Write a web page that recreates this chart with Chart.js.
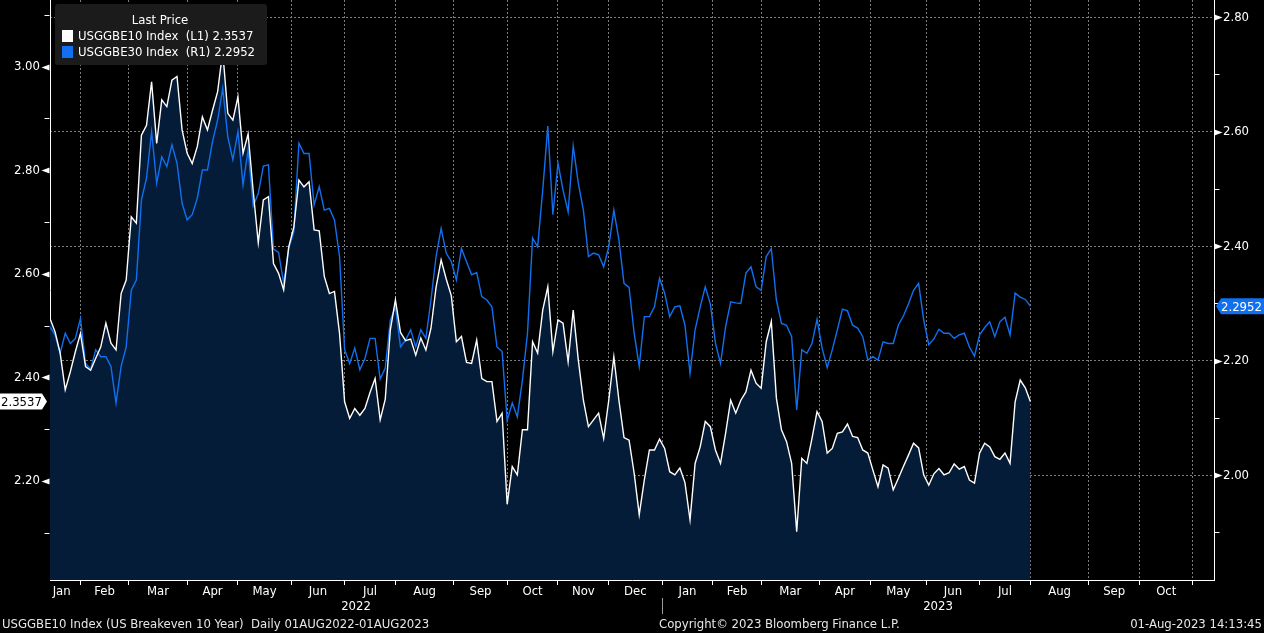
<!DOCTYPE html>
<html>
<head>
<meta charset="utf-8">
<script src="https://cdn.jsdelivr.net/npm/chart.js@4.4.0/dist/chart.umd.min.js"></script>
<style>
  html, body { margin: 0; padding: 0; background: #000; overflow: hidden; }
  #wrap { width: 1264px; height: 633px; position: relative; }
</style>
</head>
<body>
<div id="wrap"><canvas id="beChart"></canvas></div>
<script>
// USGGBE10 (left axis), sampled every 2 trading days from mid-Jan 2022 to 01-Aug-2023
const be10 = [
  2.514, 2.488, 2.447, 2.376, 2.411, 2.450, 2.485, 2.421, 2.414, 2.437,
  2.459, 2.505, 2.466, 2.453, 2.562, 2.588, 2.710, 2.698, 2.868, 2.887,
  2.971, 2.852, 2.936, 2.923, 2.974, 2.981, 2.878, 2.833, 2.813, 2.846,
  2.903, 2.878, 2.916, 2.952, 3.030, 2.910, 2.897, 2.942, 2.833, 2.870,
  2.760, 2.660, 2.743, 2.749, 2.620, 2.601, 2.569, 2.652, 2.690, 2.781,
  2.768, 2.778, 2.685, 2.683, 2.595, 2.562, 2.566, 2.485, 2.353, 2.321,
  2.340, 2.327, 2.340, 2.371, 2.398, 2.318, 2.358, 2.492, 2.550, 2.487,
  2.471, 2.474, 2.443, 2.476, 2.453, 2.495, 2.574, 2.627, 2.590, 2.558,
  2.469, 2.479, 2.429, 2.427, 2.472, 2.398, 2.392, 2.392, 2.315, 2.331,
  2.155, 2.228, 2.212, 2.299, 2.299, 2.469, 2.447, 2.530, 2.575, 2.450,
  2.511, 2.505, 2.430, 2.530, 2.434, 2.356, 2.305, 2.318, 2.331, 2.282,
  2.356, 2.440, 2.356, 2.284, 2.279, 2.215, 2.135, 2.202, 2.260, 2.260,
  2.281, 2.263, 2.218, 2.212, 2.225, 2.197, 2.125, 2.234, 2.266, 2.315,
  2.305, 2.260, 2.234, 2.292, 2.356, 2.331, 2.356, 2.372, 2.414, 2.389,
  2.379, 2.469, 2.508, 2.360, 2.299, 2.276, 2.234, 2.102, 2.244, 2.234,
  2.282, 2.334, 2.315, 2.254, 2.263, 2.292, 2.295, 2.310, 2.286, 2.284,
  2.260, 2.254, 2.221, 2.189, 2.231, 2.225, 2.183, 2.205, 2.228, 2.250,
  2.273, 2.264, 2.212, 2.192, 2.214, 2.224, 2.212, 2.216, 2.233, 2.223,
  2.228, 2.202, 2.196, 2.254, 2.273, 2.266, 2.247, 2.242, 2.254, 2.234,
  2.353, 2.395, 2.380, 2.3537
];
// USGGBE30 (right axis), same dates
const be30 = [
  2.259, 2.245, 2.213, 2.248, 2.230, 2.239, 2.274, 2.195, 2.185, 2.219,
  2.207, 2.207, 2.190, 2.126, 2.190, 2.224, 2.323, 2.341, 2.481, 2.519,
  2.600, 2.510, 2.556, 2.539, 2.577, 2.545, 2.475, 2.446, 2.455, 2.484,
  2.533, 2.533, 2.583, 2.620, 2.676, 2.591, 2.551, 2.600, 2.507, 2.568,
  2.470, 2.492, 2.540, 2.542, 2.395, 2.389, 2.335, 2.396, 2.425, 2.580,
  2.562, 2.562, 2.472, 2.504, 2.463, 2.466, 2.446, 2.382, 2.219, 2.195,
  2.222, 2.184, 2.204, 2.239, 2.239, 2.168, 2.187, 2.271, 2.294, 2.224,
  2.236, 2.254, 2.224, 2.254, 2.239, 2.306, 2.382, 2.431, 2.388, 2.373,
  2.341, 2.396, 2.373, 2.350, 2.354, 2.312, 2.306, 2.294, 2.224, 2.216,
  2.096, 2.126, 2.102, 2.166, 2.248, 2.414, 2.399, 2.498, 2.610, 2.455,
  2.545, 2.498, 2.460, 2.575, 2.510, 2.463, 2.382, 2.388, 2.385, 2.364,
  2.399, 2.463, 2.411, 2.335, 2.328, 2.248, 2.190, 2.277, 2.277, 2.294,
  2.344, 2.318, 2.277, 2.294, 2.296, 2.262, 2.178, 2.254, 2.294, 2.329,
  2.299, 2.231, 2.195, 2.259, 2.303, 2.301, 2.300, 2.353, 2.364, 2.329,
  2.323, 2.382, 2.396, 2.306, 2.265, 2.262, 2.242, 2.114, 2.219, 2.213,
  2.230, 2.272, 2.222, 2.188, 2.219, 2.254, 2.290, 2.287, 2.262, 2.257,
  2.242, 2.201, 2.207, 2.201, 2.233, 2.230, 2.230, 2.262, 2.278, 2.299,
  2.323, 2.335, 2.271, 2.228, 2.238, 2.255, 2.248, 2.248, 2.239, 2.245,
  2.248, 2.224, 2.208, 2.245, 2.258, 2.268, 2.242, 2.268, 2.276, 2.245,
  2.318, 2.311, 2.307, 2.2952
];
const step = 2;          // trading days between samples
const xMax = 458.3;      // trading days shown (to end of Oct 2023)

// first trading day of each month, counted from the left edge
const monthStarts = [12, 31, 54, 74, 95, 116, 136, 159, 180, 200, 220,
                     241, 261, 280, 303, 323, 345, 366, 386, 409, 429, 450];
const monthNames = ['Jan', 'Feb', 'Mar', 'Apr', 'May', 'Jun', 'Jul', 'Aug', 'Sep', 'Oct', 'Nov', 'Dec',
                    'Jan', 'Feb', 'Mar', 'Apr', 'May', 'Jun', 'Jul', 'Aug', 'Sep', 'Oct'];
const firstLabelAt = 4.6;
const yearNames = ['2022', '2023'];
const yearStart = 241;

const leftTicks = [2.1, 2.2, 2.3, 2.4, 2.5, 2.6, 2.7, 2.8, 2.9, 3.0, 3.1];
const rightTicks = [1.9, 2.0, 2.1, 2.2, 2.3, 2.4, 2.5, 2.6, 2.7, 2.8];
const leftRange = [2.0089, 3.1288];
const rightRange = [1.8170, 2.8300];

const FONT = '"DejaVu Sans Condensed", "Liberation Sans Narrow", "Roboto", sans-serif';
const FS = 13;
const WHITE = '#ffffff';
const BLUE = '#1070f0';

const monthMids = monthNames.map((m, i) => i === 0 ? firstLabelAt : (monthStarts[i - 1] + monthStarts[i]) / 2);
const yearMids = [yearStart / 2, (yearStart + xMax) / 2];

function isMajor(v) { return Math.round(v * 10) % 2 === 0; }
function noPad(s) { s.paddingTop = 0; s.paddingBottom = 0; s.paddingLeft = 0; s.paddingRight = 0; }

const decor = {
  id: 'decor',
  afterDraw(chart) {
    const ctx = chart.ctx;
    const yl = chart.scales.yL, yr = chart.scales.yR, xs = chart.scales.x;
    ctx.save();
    ctx.fillStyle = WHITE;
    ctx.strokeStyle = WHITE;
    ctx.lineWidth = 1;

    // axis tick marks: pennants at labelled values, short dashes between
    [[yl, -1], [yr, 1]].forEach(([s, dir]) => {
      const ax = dir < 0 ? Math.round(s.right) - 0.5 : Math.round(s.left) + 0.5;
      s.ticks.forEach(t => {
        const py = Math.round(s.getPixelForValue(t.value)) + 0.5;
        if (isMajor(t.value)) {
          ctx.beginPath();
          ctx.moveTo(ax, py - 3);
          ctx.lineTo(ax, py + 3);
          ctx.lineTo(ax + dir * 8, py);
          ctx.closePath();
          ctx.fill();
        } else {
          ctx.beginPath();
          ctx.moveTo(ax, py);
          ctx.lineTo(ax + dir * 5, py);
          ctx.stroke();
        }
      });
    });

    // last value flags
    ctx.font = FS + 'px ' + FONT;
    ctx.textBaseline = 'middle';
    const d0 = chart.data.datasets[0].data, d1 = chart.data.datasets[1].data;
    const v0 = d0[d0.length - 1].y, v1 = d1[d1.length - 1].y;
    let py = yl.getPixelForValue(v0);
    ctx.fillStyle = WHITE;
    ctx.beginPath();
    ctx.moveTo(0, py - 8); ctx.lineTo(42, py - 8); ctx.lineTo(47, py);
    ctx.lineTo(42, py + 8); ctx.lineTo(0, py + 8); ctx.closePath(); ctx.fill();
    ctx.fillStyle = '#000';
    ctx.textAlign = 'left';
    ctx.fillText(v0.toFixed(4), 1, py + 1);

    py = yr.getPixelForValue(v1);
    ctx.fillStyle = BLUE;
    ctx.beginPath();
    ctx.moveTo(1216, py); ctx.lineTo(1221, py - 8); ctx.lineTo(1264, py - 8);
    ctx.lineTo(1264, py + 8); ctx.lineTo(1221, py + 8); ctx.closePath(); ctx.fill();
    ctx.fillStyle = WHITE;
    ctx.fillText(v1.toFixed(4), 1221, py + 1);

    // legend box
    ctx.fillStyle = '#1b1b1b';
    ctx.beginPath();
    ctx.roundRect(55, 4, 212, 61, 3);
    ctx.fill();
    ctx.fillStyle = WHITE;
    ctx.textAlign = 'center';
    ctx.fillText('Last Price', 160, 21);
    ctx.textAlign = 'left';
    chart.data.datasets.forEach((ds, i) => {
      const ly = 36 + i * 16;
      const last = ds.data[ds.data.length - 1].y;
      ctx.fillStyle = ds.borderColor;
      ctx.fillRect(62, ly - 6, 11, 12);
      ctx.fillStyle = WHITE;
      ctx.fillText(ds.label + '  ' + ds.side + ' ' + last.toFixed(4), 78, ly + 1);
    });

    // year divider under the x axis
    const sx = Math.round(xs.getPixelForValue(yearStart)) + 0.5;
    ctx.strokeStyle = '#9a9a9a';
    ctx.beginPath();
    ctx.moveTo(sx, 598); ctx.lineTo(sx, 614); ctx.stroke();

    // footer
    ctx.fillStyle = '#e6e6e6';
    ctx.textAlign = 'left';
    ctx.fillText('USGGBE10 Index (US Breakeven 10 Year)  Daily 01AUG2022-01AUG2023', 2, 625);
    ctx.fillText('Copyright\u00a9 2023 Bloomberg Finance L.P.', 659, 625);
    ctx.textAlign = 'right';
    ctx.fillText('01-Aug-2023 14:13:45', 1262, 625);
    ctx.restore();
  }
};

Chart.defaults.font.family = FONT;
Chart.defaults.font.size = FS;
Chart.defaults.color = WHITE;

new Chart(document.getElementById('beChart'), {
  type: 'line',
  data: {
    datasets: [{
      label: 'USGGBE10 Index',
      side: '(L1)',
      data: be10.map((v, i) => ({ x: i * step, y: v })),
      xAxisID: 'x',
      yAxisID: 'yL',
      borderColor: WHITE,
      borderWidth: 1.4,
      backgroundColor: '#041c38',
      fill: 'start',
      pointRadius: 0,
      tension: 0,
      order: 1
    }, {
      label: 'USGGBE30 Index',
      side: '(R1)',
      data: be30.map((v, i) => ({ x: i * step, y: v })),
      xAxisID: 'x',
      yAxisID: 'yR',
      borderColor: BLUE,
      borderWidth: 1.4,
      fill: false,
      pointRadius: 0,
      tension: 0,
      order: 2
    }]
  },
  options: {
    responsive: true,
    maintainAspectRatio: false,
    animation: false,
    layout: { padding: 0 },
    plugins: {
      legend: { display: false },
      tooltip: { enabled: false },
      filler: { drawTime: 'beforeDatasetsDraw' }
    },
    scales: {
      x: {
        type: 'linear', position: 'bottom', min: 0, max: xMax, weight: 0,
        afterBuildTicks: s => { s.ticks = monthStarts.map(v => ({ value: v })); },
        afterFit: s => { s.height = 5; noPad(s); },
        ticks: { display: false },
        grid: { color: '#7c7c7c', lineWidth: 1, drawTicks: true, tickLength: 5, tickColor: WHITE, tickBorderDash: [] },
        border: { color: WHITE, width: 1, dash: [2, 2] }
      },
      xm: {
        type: 'linear', position: 'bottom', min: 0, max: xMax, weight: 1,
        afterBuildTicks: s => { s.ticks = monthMids.map(v => ({ value: v })); },
        afterFit: s => { s.height = 14; noPad(s); },
        ticks: { autoSkip: false, maxRotation: 0, padding: 0, color: WHITE,
                 font: { size: FS, lineHeight: 1 }, callback: (v, i) => monthNames[i] },
        grid: { display: false, drawTicks: false },
        border: { display: false }
      },
      xy: {
        type: 'linear', position: 'bottom', min: 0, max: xMax, weight: 2,
        afterBuildTicks: s => { s.ticks = yearMids.map(v => ({ value: v })); },
        afterFit: s => { s.height = 34; noPad(s); },
        ticks: { autoSkip: false, maxRotation: 0, padding: 1, color: WHITE,
                 font: { size: FS, lineHeight: 1 }, callback: (v, i) => yearNames[i] },
        grid: { display: false, drawTicks: false },
        border: { display: false }
      },
      yL: {
        type: 'linear', position: 'left', min: leftRange[0], max: leftRange[1],
        afterBuildTicks: s => { s.ticks = leftTicks.map(v => ({ value: v })); },
        afterFit: s => { s.width = 50; noPad(s); },
        ticks: { padding: 10, color: WHITE, font: { size: FS },
                 callback: v => isMajor(v) ? v.toFixed(2) : '' },
        grid: { drawOnChartArea: false, drawTicks: false },
        border: { color: WHITE, width: 1 }
      },
      yR: {
        type: 'linear', position: 'right', min: rightRange[0], max: rightRange[1],
        afterBuildTicks: s => { s.ticks = rightTicks.map(v => ({ value: v })); },
        afterFit: s => { s.width = 50; noPad(s); },
        ticks: { padding: 9, color: WHITE, font: { size: FS },
                 callback: v => isMajor(v) ? v.toFixed(2) : '' },
        grid: { drawTicks: false, lineWidth: 1,
                color: c => (c.tick && isMajor(c.tick.value)) ? '#7c7c7c' : 'rgba(0,0,0,0)' },
        border: { color: WHITE, width: 1, dash: [2, 2] }
      }
    }
  },
  plugins: [decor]
});
</script>
</body>
</html>
